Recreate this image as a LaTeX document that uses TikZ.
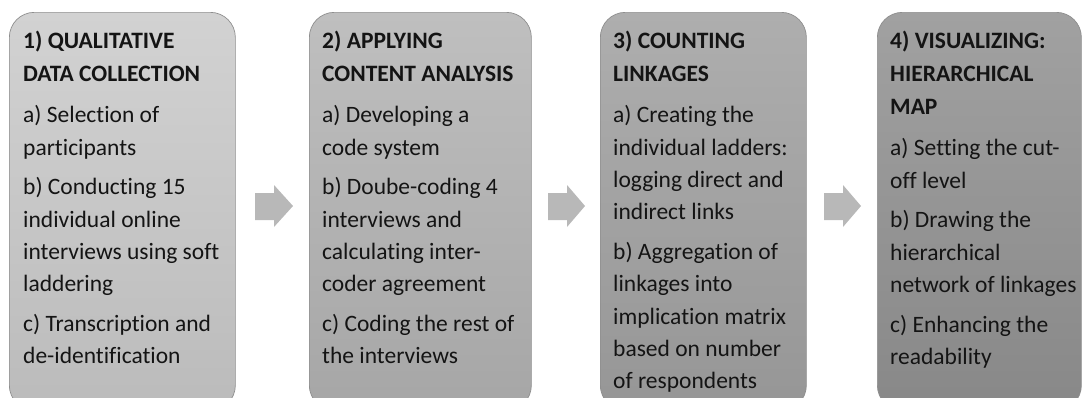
\documentclass[tikz,border=0pt]{standalone}
\usepackage{fontspec}
\setmainfont{Carlito}[Ligatures=NoCommon]
\definecolor{boxAtop}{HTML}{D2D2D2}
\definecolor{boxAbot}{HTML}{BBBBBB}
\definecolor{boxBtop}{HTML}{BFBFBF}
\definecolor{boxBbot}{HTML}{A6A6A6}
\definecolor{boxCtop}{HTML}{AEAEAE}
\definecolor{boxCbot}{HTML}{969696}
\definecolor{boxDtop}{HTML}{A1A1A1}
\definecolor{boxDbot}{HTML}{888888}
\definecolor{boxline}{HTML}{8E8E8E}
\definecolor{arrowgray}{HTML}{B8B8B8}
\definecolor{textdark}{HTML}{141414}
\newcommand{\stagefont}{\fontsize{23.5}{32.3}\selectfont}

\begin{document}

\begin{tikzpicture}[x=1pt,y=-1pt,
  stagebox/.style={rectangle, rounded corners=25pt, draw=boxline, line width=0.7pt,
    anchor=north west, inner sep=0pt, minimum height=398pt},
  stagetext/.style={anchor=base west, inner sep=0pt, text=textdark},
  blockarrow/.style={fill=arrowgray, draw=none}]
\useasboundingbox (0,0) rectangle (1083,397);
\clip (0,0) rectangle (1083,397);
% boxes
\node[stagebox, minimum width=226pt, top color=boxAtop, bottom color=boxAbot] (b1) at (9,12) {};
\node[stagebox, minimum width=222pt, top color=boxBtop, bottom color=boxBbot] (b2) at (309,12) {};
\node[stagebox, minimum width=206pt, top color=boxCtop, bottom color=boxCbot] (b3) at (600,12) {};
\node[stagebox, minimum width=204pt, top color=boxDtop, bottom color=boxDbot] (b4) at (877,12) {};
% texts
\node[stagetext] (t1) at (23,48) {\parbox[t]{260pt}{\stagefont\raggedright
\textbf{1) QUALITATIVE}\\[0.7pt]
\textbf{DATA COLLECTION}\\[9.5pt]
a) Selection of\\
participants\\[7.5pt]
b) Conducting 15\\
individual online\\
interviews using soft\\
laddering\\[7.5pt]
c) Transcription and\\
de-identification}};
\node[stagetext] (t2) at (322,48) {\parbox[t]{260pt}{\stagefont\raggedright
\textbf{2) APPLYING}\\[0.7pt]
\textbf{CONTENT ANALYSIS}\\[9.5pt]
a) Developing a\\
code system\\[7.5pt]
b) Doube-coding 4\\
interviews and\\
calculating inter-\\
coder agreement\\[7.5pt]
c) Coding the rest of\\
the interviews}};
\node[stagetext] (t3) at (613,48) {\parbox[t]{260pt}{\stagefont\raggedright
\textbf{3) COUNTING}\\[0.7pt]
\textbf{LINKAGES}\\[9.5pt]
a) Creating the\\
individual ladders:\\
logging direct and\\
indirect links\\[7.5pt]
b) Aggregation of\\
linkages into\\
implication matrix\\
based on number\\
of respondents}};
\node[stagetext] (t4) at (890,48) {\parbox[t]{260pt}{\stagefont\raggedright
\textbf{4) VISUALIZING:}\\[0.7pt]
\textbf{HIERARCHICAL}\\[0.7pt]
\textbf{MAP}\\[9.5pt]
a) Setting the cut-\\
off level\\[7.5pt]
b) Drawing the\\
hierarchical\\
network of linkages\\[7.5pt]
c) Enhancing the\\
readability}};
% block arrows
\fill[blockarrow] (255,193) -- (274,193) -- (274,185) -- (293,206) -- (274,227) -- (274,220) -- (255,220) -- cycle;
\fill[blockarrow] (548,193) -- (567,193) -- (567,185) -- (585,206) -- (567,227) -- (567,220) -- (548,220) -- cycle;
\fill[blockarrow] (824,193) -- (843,193) -- (843,185) -- (861,206) -- (843,227) -- (843,220) -- (824,220) -- cycle;
\end{tikzpicture}

\end{document}
